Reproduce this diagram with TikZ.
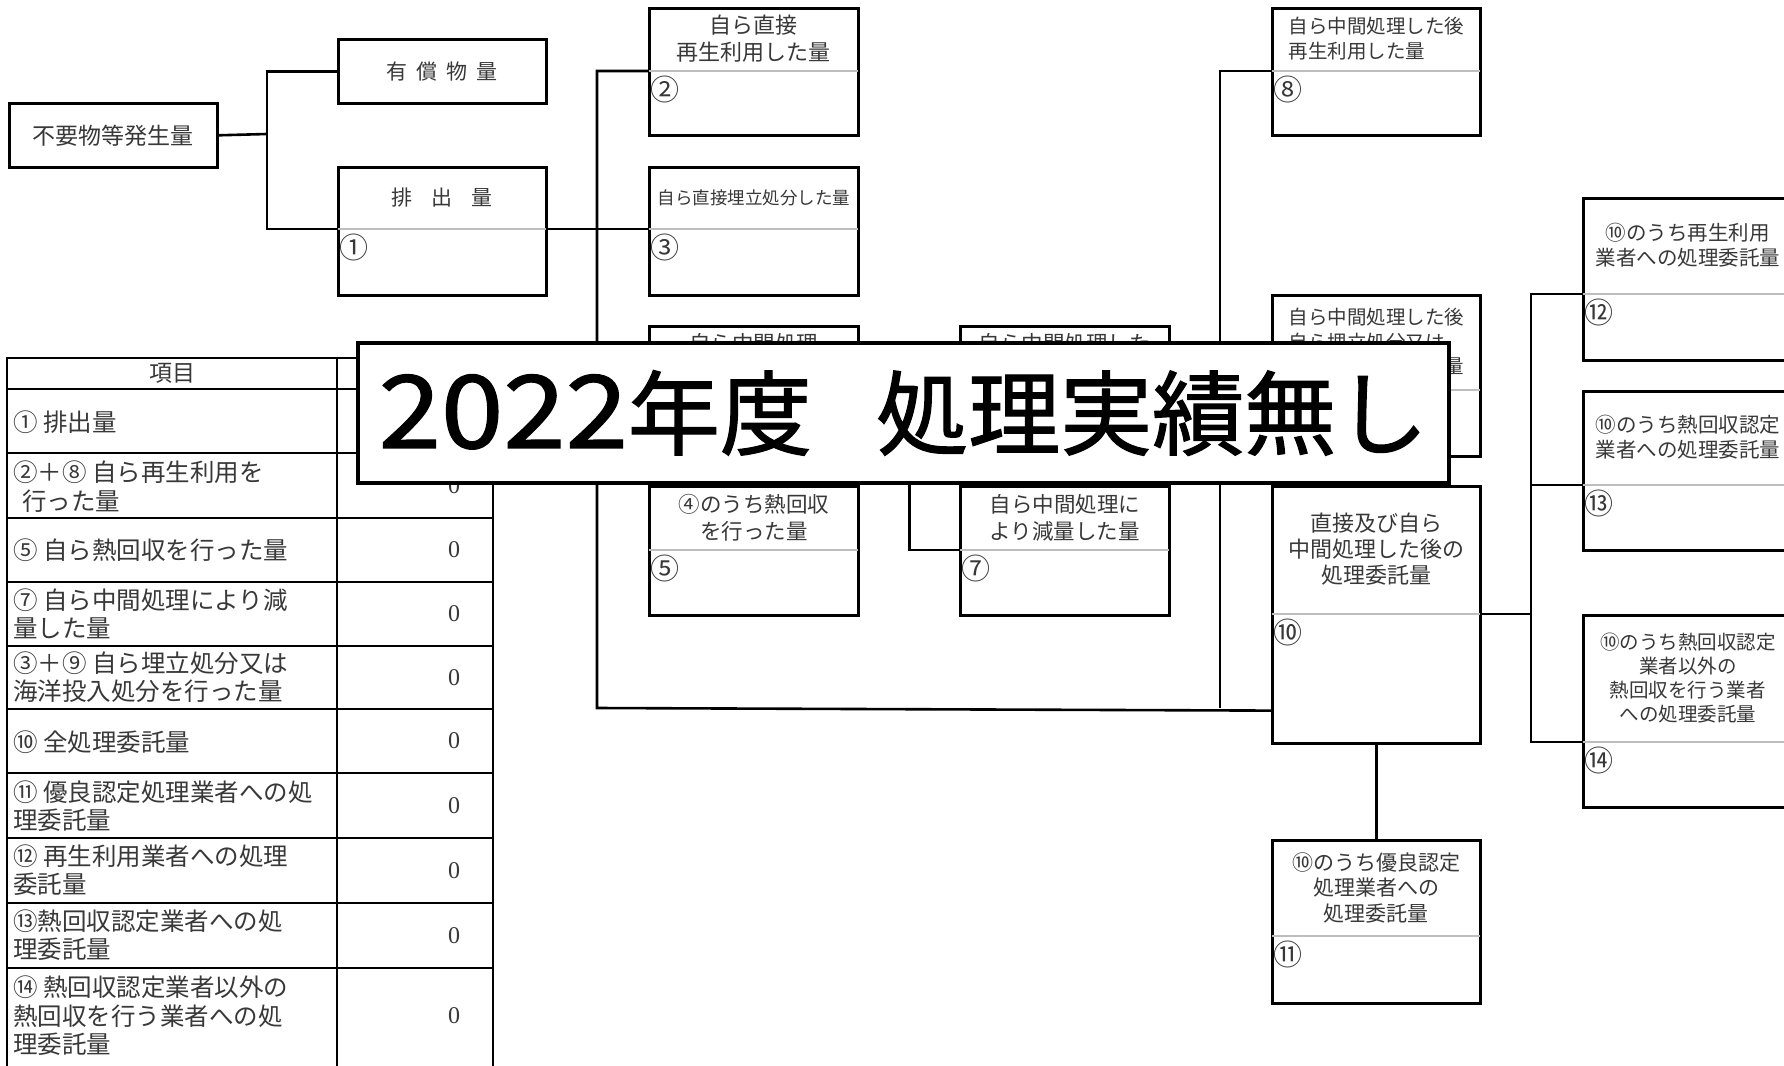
\documentclass[tikz,border=0pt]{standalone}
\usepackage{graphicx}
\usepackage{fontspec}
\setmainfont{Noto Sans CJK JP}
\newfontfamily\ovfont[FakeBold=1.3]{Noto Sans CJK JP}
\newfontfamily\digfont{Liberation Serif}
\usetikzlibrary{calc}
\definecolor{txt}{HTML}{383838}
\definecolor{divc}{HTML}{BEBEBE}
\newcommand{\fs}[2]{\fontsize{#1}{#2}\selectfont}
\tikzset{
  qb/.style={draw=black, line width=2.6pt, rectangle, inner sep=0pt, fill=white},
  div/.style={draw=divc, line width=1.2pt},
  conn/.style={draw=black, line width=2.6pt},
  qtext/.style={text=txt, align=center, inner sep=0pt},
  qnum/.style={text=txt, inner sep=0pt, font={\fs{29}{29}}, anchor=west},
  tbl/.style={draw=black, line width=2.2pt},
  ttext/.style={text=txt, align=left, inner sep=0pt, anchor=west, font={\fs{24.5}{28.5}}},
  tval/.style={text=txt, inner sep=0pt, font={\digfont\fs{24}{24}}},
  ovl/.style={draw=black, line width=4.5pt, fill=white, rectangle, inner sep=0pt,
    minimum width=1091pt, minimum height=140pt, font={\ovfont\fs{92}{92}}, text=black}
}
\newcommand{\qbox}[9]{%
  \node[qb, minimum width=#4pt, minimum height=#5pt, anchor=north west] (#1) at (#2,#3) {};
  \coordinate (#1l) at ($(#1.north west)+(0,#6)$);
  \coordinate (#1r) at ($(#1.north east)+(0,#6)$);
  \draw[div] ($(#1l)+(1.3,0)$) -- ($(#1r)+(-1.3,0)$);
  \node[qtext,#7] (#1t) at ($(#1.north)+(0,#6/2)$) {#8};
  \node[qnum] (#1n) at ($(#1l)+(2,18)$) {#9};
}
\begin{document}
\begin{tikzpicture}[x=1pt,y=-1pt]
\useasboundingbox (0,0) rectangle (1784,1065);
\fill[white] (0,0) rectangle (1784,1065);

% ---- boxes ----
\node[qb, minimum width=208pt, minimum height=64pt, anchor=north west, text=txt, font={\fs{23}{23}}] (b0) at (8,102) {不要物等発生量};
\node[qb, minimum width=208pt, minimum height=64pt, anchor=north west, text=txt, font={\fs{21}{21}}] (byu) at (337,38) {{\spaceskip=9pt 有 償 物 量}};
\qbox{b1}{337}{166}{208}{128}{63}{font={\fs{21}{26}}}{{\spaceskip=19pt 排 出 量}}{①}
\qbox{b2}{648}{7}{209}{127}{64}{font={\fs{22}{27}}}{自ら直接\\再生利用した量}{②}
\qbox{b3}{648}{166}{209}{128}{63}{font={\fs{17.5}{21}}}{自ら直接埋立処分した量}{③}
\qbox{b4}{648}{325}{209}{128}{64}{font={\fs{21.5}{27}}}{自ら中間処理\\した量}{④}
\qbox{b5}{648}{485}{209}{129}{65}{font={\fs{21.5}{27}}}{④のうち熱回収\\を行った量}{⑤}
\qbox{b6}{959}{325}{209}{128}{64}{font={\fs{21.5}{27}}}{自ら中間処理した\\後の残さ量}{⑥}
\qbox{b7}{959}{485}{209}{129}{65}{font={\fs{21.5}{27}}}{自ら中間処理に\\より減量した量}{⑦}
\qbox{b8}{1271}{7}{208}{127}{64}{align=left,font={\fs{19.5}{25}}}{自ら中間処理した後\\再生利用した量}{⑧}
\qbox{b9}{1271}{294}{208}{161}{96}{align=left,font={\fs{19.5}{24.5}}}{自ら中間処理した後\\自ら埋立処分又は\\海洋投入処分した量}{⑨}
\qbox{b10}{1271}{485}{208}{257}{129}{font={\fs{22}{26}}}{直接及び自ら\\中間処理した後の\\処理委託量}{⑩}
\qbox{b11}{1271}{839}{208}{163}{97}{font={\fs{21}{25.5}}}{⑩のうち優良認定\\処理業者への\\処理委託量}{⑪}
\qbox{b12}{1582}{197}{209}{162}{97}{font={\fs{20.5}{25}}}{⑩のうち再生利用\\業者への処理委託量}{⑫}
\qbox{b13}{1582}{390}{209}{159}{95}{font={\fs{20.5}{25}}}{⑩のうち熱回収認定\\業者への処理委託量}{⑬}
\qbox{b14}{1582}{614}{209}{192}{128}{font={\fs{19.5}{24.3}}}{⑩のうち熱回収認定\\業者以外の\\熱回収を行う業者\\への処理委託量}{⑭}

% ---- junctions ----
\coordinate (j0) at (267,134);
\coordinate (t1) at (597,708);
\coordinate (t2) at (1220,708);
\coordinate (t3) at (1531,614);
\coordinate (j4) at ($(b4r)!0.5!(b6l)$);
\coordinate (b10in) at ($(b10.south west)+(0,-34)$);

% ---- connectors ----
\draw[conn] (b0.east) -- (j0);
\draw[conn] (byu.west) -| (j0) |- (b1l);
\draw[conn] (b1r) -- (b3l);
\draw[conn] (b2l) -| (t1) -- (b10in);
\draw[conn] (b4l) -- (b4l -| t1);
\draw[conn] (b4r) -- (b6l);
\draw[conn] (j4) |- (b7l);
\draw[conn] (b8l) -| (t2);
\draw[conn] (b6r) -- (b6r -| t2);
\draw[conn] (b9l) -- (b9l -| t2);
\draw[conn] (b10r) -- (t3);
\draw[conn] (b12l) -| (t3) |- (b14l);
\draw[conn] (b13l) -- (b13l -| t3);
\draw[conn] (b10.south) -- (b11.north);

% ---- table ----
\draw[tbl] (7,358) rectangle (493,1080);
\draw[tbl] (337,358) -- (337,1080);
\foreach \yy in {389,453,518,582,646,709,773,838,903,968}
  \draw[tbl] (7,\yy) -- (493,\yy);
\node[ttext, anchor=center, font={\fs{23}{23}}] (th) at (172,373.5) {項目};
\node[ttext] (r1) at (13,422) {① 排出量};
\node[ttext] (r2) at (13,486.5) {②＋⑧ 自ら再生利用を\\\hspace*{9pt}行った量};
\node[ttext] (r3) at (13,550) {⑤ 自ら熱回収を行った量};
\node[ttext] (r4) at (13,614) {⑦ 自ら中間処理により減\\量した量};
\node[ttext] (r5) at (13,677) {③＋⑨ 自ら埋立処分又は\\海洋投入処分を行った量};
\node[ttext] (r6) at (13,742) {⑩ 全処理委託量};
\node[ttext] (r7) at (13,806) {⑪ 優良認定処理業者への処\\理委託量};
\node[ttext] (r8) at (13,870) {⑫ 再生利用業者への処理\\委託量};
\node[ttext] (r9) at (13,935) {⑬熱回収認定業者への処\\理委託量};
\node[ttext] (r10) at (13,1016) {⑭ 熱回収認定業者以外の\\熱回収を行う業者への処\\理委託量};
\node[tval] (v2) at (454,485.5) {0};
\node[tval] (v3) at (454,550) {0};
\node[tval] (v4) at (454,614) {0};
\node[tval] (v5) at (454,677.5) {0};
\node[tval] (v6) at (454,741) {0};
\node[tval] (v7) at (454,805.5) {0};
\node[tval] (v8) at (454,870.5) {0};
\node[tval] (v9) at (454,935.5) {0};
\node[tval] (v10) at (454,1016) {0};

% ---- overlay ----
\node[ovl] (ov) at (903.5,413) {\scalebox{1.22}[1.1]{2022}年度\hspace{0.7em}処理実績無し};
\end{tikzpicture}
\end{document}
